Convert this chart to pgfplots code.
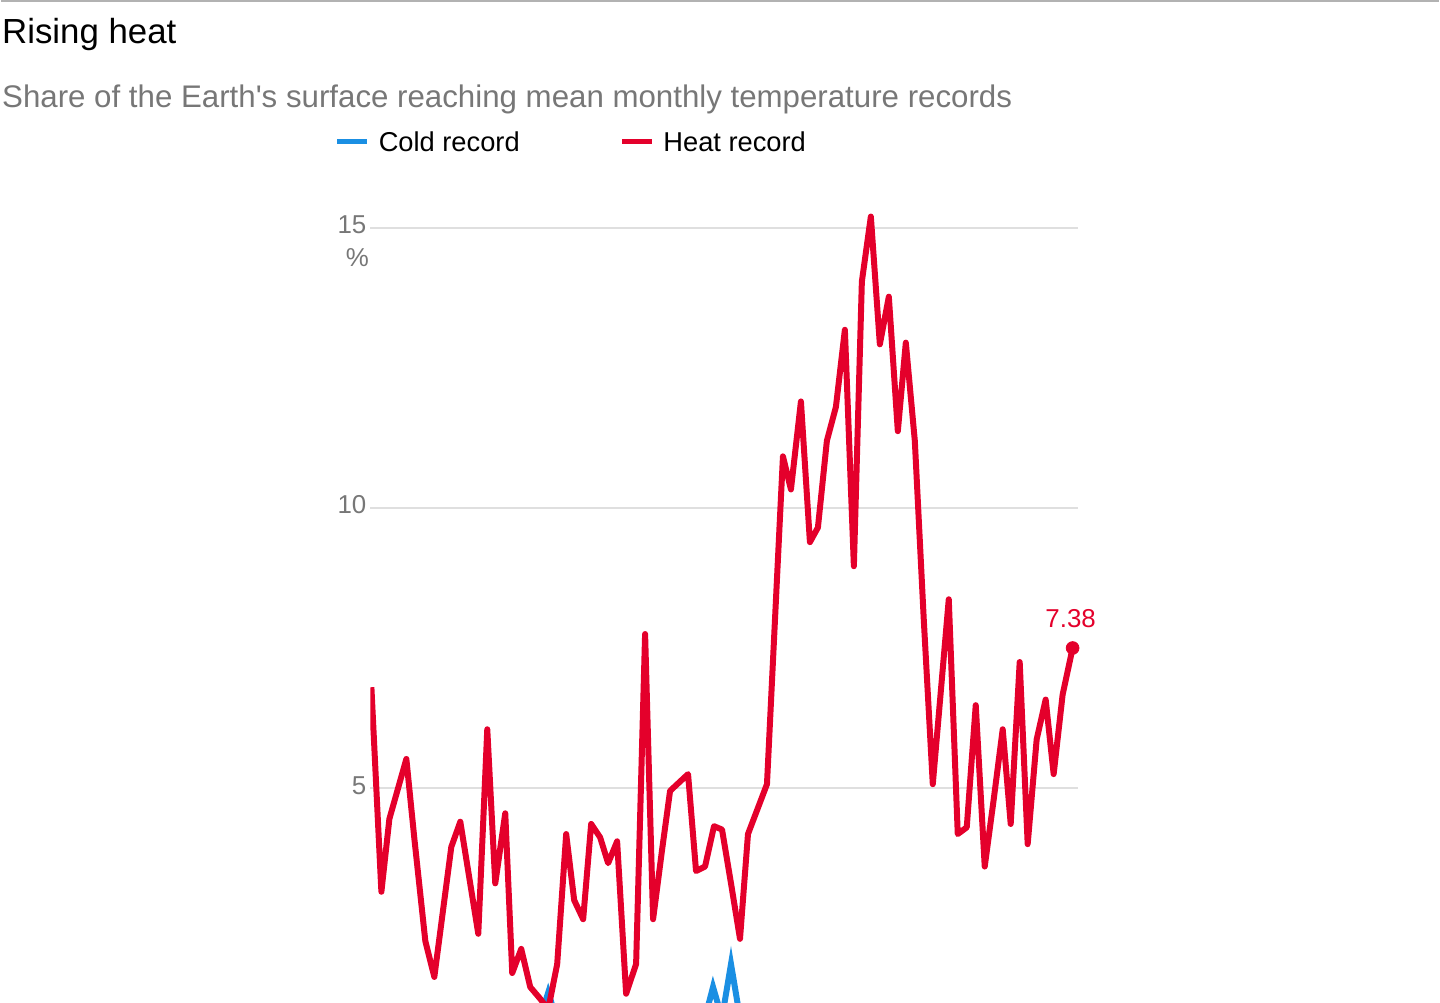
\documentclass[border=0pt]{standalone}
\usepackage{pgfplots}
\pgfplotsset{compat=1.18}
\usepackage{fontspec}
\setmainfont{Liberation Sans}
\definecolor{hred}{HTML}{E4002B}
\definecolor{cblue}{HTML}{1A8FE3}
\definecolor{tgrey}{HTML}{777777}
\begin{document}
\begin{tikzpicture}[x=1bp,y=1bp]
\path (0,0) rectangle (720,502);
\draw[gray!60,line width=0.8bp] (0,501.5) -- (720,501.5);
\node[anchor=base west,inner sep=0,font=\fontsize{17.5}{20}\selectfont] at (0.5,480) {Rising heat};
\node[anchor=base west,inner sep=0,text=tgrey,font=\fontsize{15.7}{18}\selectfont] at (0.5,448) {Share of the Earth\textquotesingle s surface reaching mean monthly temperature records};
\draw[cblue,line width=2.5bp] (168.5,431) -- (183.5,431);
\node[anchor=base west,inner sep=0,font=\fontsize{13.7}{16}\selectfont] at (189,426) {Cold record};
\draw[hred,line width=2.5bp] (311,431) -- (326,431);
\node[anchor=base west,inner sep=0,font=\fontsize{13.7}{16}\selectfont] at (331.5,426) {Heat record};
\begin{axis}[at={(185bp,0bp)},anchor=south west,scale only axis,
 width=354bp,height=402bp,xmin=-1,xmax=707,ymin=1.167,ymax=15.5,
 axis line style={draw=none},major tick length=0pt,
 clip mode=individual,
 ytick={5,10,15},xtick=\empty,
 ymajorgrids,grid style={gray!25,line width=0.8bp},
 /pgf/number format/assume math mode=true,
 yticklabel style={text=tgrey,font=\fontsize{13}{15}\selectfont,anchor=base east,yshift=-3bp,xshift=1.5bp},
]
\addplot[cblue,line width=3bp] coordinates {(160,0.9)(169,0.9)(177,1.35)(185,0.9)(334,0.9)(342,1.45)(351,0.9)(360,1.86)(369,0.9)};
\addplot[hred,line width=3bp,line join=round] coordinates {
(0,6.8)(10,3.15)(18,4.45)(35,5.52)(43,4.1)(54,2.27)(63,1.63)(80,3.95)(89,4.4)(98,3.4)(107,2.4)(116,6.05)(124,3.3)(134,4.55)(141,1.7)(150,2.13)(159,1.45)(169,1.24)(177,1.05)(186,1.86)(195,4.18)(203,3.0)(212,2.66)(220,4.36)(229,4.12)(237,3.66)(246,4.05)(255,1.33)(265,1.86)(274,7.75)(282,2.66)(291,3.9)(299,4.95)(317,5.25)(325,3.52)(334,3.6)(343,4.32)(351,4.26)(360,3.3)(369,2.31)(377,4.18)(396,5.07)(412,10.92)(420,10.33)(430,11.9)(439,9.39)(447,9.65)(456,11.2)(465,11.8)(474,13.18)(483,8.96)(491,14.04)(500,15.2)(509,12.92)(518,13.77)(527,11.37)(535,12.95)(544,11.2)(553,8.0)(562,5.07)(578,8.37)(587,4.18)(596,4.3)(605,6.48)(614,3.6)(623,4.8)(632,6.05)(640,4.36)(649,7.25)(657,4.0)(666,5.87)(675,6.58)(683,5.25)(692,6.67)(702,7.5)};
\addplot[hred,only marks,mark=*,mark size=3.2bp] coordinates {(702,7.5)};
\node[text=hred,anchor=base,inner sep=0,font=\fontsize{13}{15}\selectfont] at (axis cs:700,7.87) {7.38};
\node[text=tgrey,anchor=base east,inner sep=0,font=\fontsize{13}{15}\selectfont] at (axis cs:-2,14.3) {\%};
\end{axis}
\end{tikzpicture}
\end{document}
